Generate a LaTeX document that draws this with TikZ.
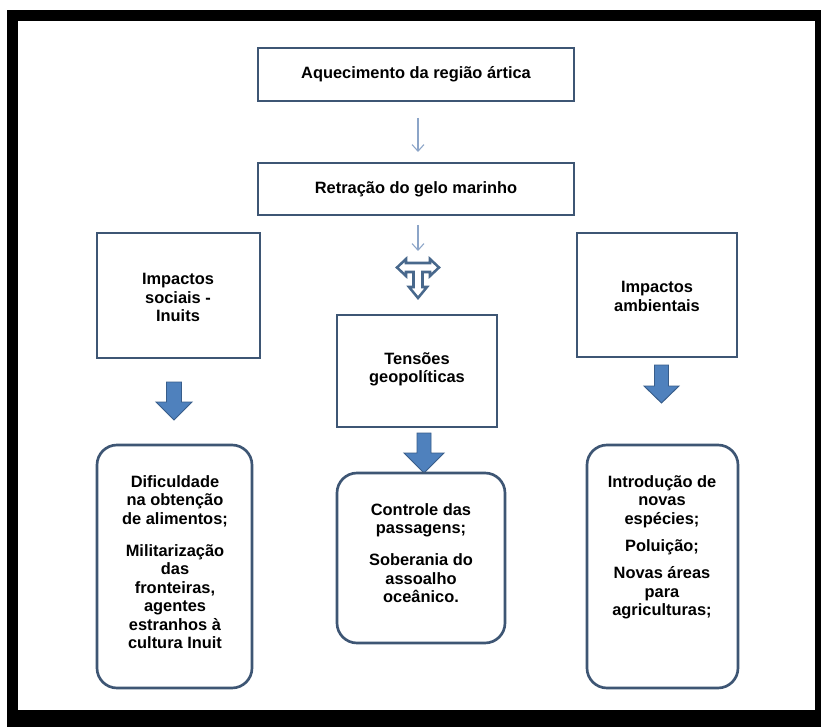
\documentclass[tikz,border=0pt]{standalone}
\usepackage{fontspec}
\setmainfont{Liberation Sans}
\usetikzlibrary{arrows.meta}
\definecolor{boxline}{RGB}{62,86,116}
\definecolor{thinblue}{RGB}{140,165,200}
\definecolor{fatfill}{RGB}{79,129,189}
\definecolor{fatline}{RGB}{56,93,138}
\definecolor{tline}{RGB}{72,104,140}
\begin{document}
\begin{tikzpicture}[x=0.75pt,y=-0.75pt,
  txt/.style={font=\fontsize{12.3}{13.9}\selectfont\bfseries, align=center, text=black, inner sep=0pt},
  sqbox/.style={draw=boxline, line width=2.2pt, fill=white, inner sep=0pt},
  rbox/.style={draw=boxline, line width=2pt, fill=white, rounded corners=15pt, inner sep=0pt},
  thinarrow/.style={draw=thinblue, line width=0.9pt, -{Straight Barb[length=5pt,width=9pt,line width=0.8pt]}},
  fatarrow/.style={fill=fatfill, draw=fatline, line width=0.7pt, line join=miter},
  tshape/.style={draw=tline, line width=1.9pt, fill=white, line join=miter}]
\useasboundingbox (0,0) rectangle (821,727);
% frame
\fill[white] (0,0) rectangle (821,727);
\fill[black] (7,10) rectangle (821,727);
\fill[white] (18,21) rectangle (815,710);

% top boxes
\node[sqbox, minimum width=237pt, minimum height=39.75pt] (top) at (416,74.5) {};
\node[txt] (toptxt) at (416,74.5) {Aquecimento da região ártica};
\node[sqbox, minimum width=237pt, minimum height=39pt] (ret) at (416,189) {};
\node[txt] (rettxt) at (416,189) {Retração do gelo marinho};

% thin arrows
\coordinate (a1s) at (418,118);
\coordinate (a1e) at (418,152);
\draw[thinarrow] (a1s) -- (a1e);
\coordinate (a2s) at (418,225);
\coordinate (a2e) at (418,251);
\draw[thinarrow] (a2s) -- (a2e);

% T-shaped split arrow
\draw[tshape] (397,267.5) -- (406,259) -- (406,263) -- (430,263) -- (430,259) -- (439,267.5)
  -- (430,276) -- (430,272) -- (422.5,272) -- (422.5,287) -- (427,287) -- (418,298)
  -- (409,287) -- (413.5,287) -- (413.5,272) -- (406,272) -- (406,276) -- cycle;

% second row boxes
\node[sqbox, minimum width=122.25pt, minimum height=93.75pt] (soc) at (178.5,295.5) {};
\node[txt] (soctxt) at (178,297.5) {Impactos\\sociais -\\Inuits};
\node[sqbox, minimum width=120pt, minimum height=84pt] (geo) at (417,371) {};
\node[txt] (geotxt) at (417,369.5) {Tensões\\geopolíticas};
\node[sqbox, minimum width=120pt, minimum height=93pt] (amb) at (657,295) {};
\node[txt] (ambtxt) at (657,296.5) {Impactos\\ambientais};

% fat arrows
\draw[fatarrow] (166.5,382) -- (181.5,382) -- (181.5,402) -- (192,402) -- (174,420) -- (156,402) -- (166.5,402) -- cycle;
\draw[fatarrow] (417,433) -- (431,433) -- (431,453) -- (444,453) -- (424,473) -- (404,453) -- (417,453) -- cycle;
\draw[fatarrow] (654.5,365) -- (668.5,365) -- (668.5,386) -- (679,386) -- (661.5,403) -- (644,386) -- (654.5,386) -- cycle;

% rounded boxes
\node[rbox, minimum width=116.25pt, minimum height=182.25pt] (socr) at (174.5,566.5) {};
\node[txt, anchor=north] (socrtxt) at (175,475) {Dificuldade\\na obtenção\\de alimentos;\\[10pt]Militarização\\das\\fronteiras,\\agentes\\estranhos à\\cultura Inuit};
\node[rbox, minimum width=126pt, minimum height=127.5pt] (geor) at (421,558) {};
\node[txt, anchor=north] (geortxt) at (421,503) {Controle das\\passagens;\\[10pt]Soberania do\\assoalho\\oceânico.};
\node[rbox, minimum width=113.25pt, minimum height=182.25pt] (ambr) at (662.5,566.5) {};
\node[txt, anchor=north] (ambrtxt) at (662,475) {Introdução de\\novas\\espécies;\\[6.5pt]Poluição;\\[6.5pt]Novas áreas\\para\\agriculturas;};
\end{tikzpicture}
\end{document}
